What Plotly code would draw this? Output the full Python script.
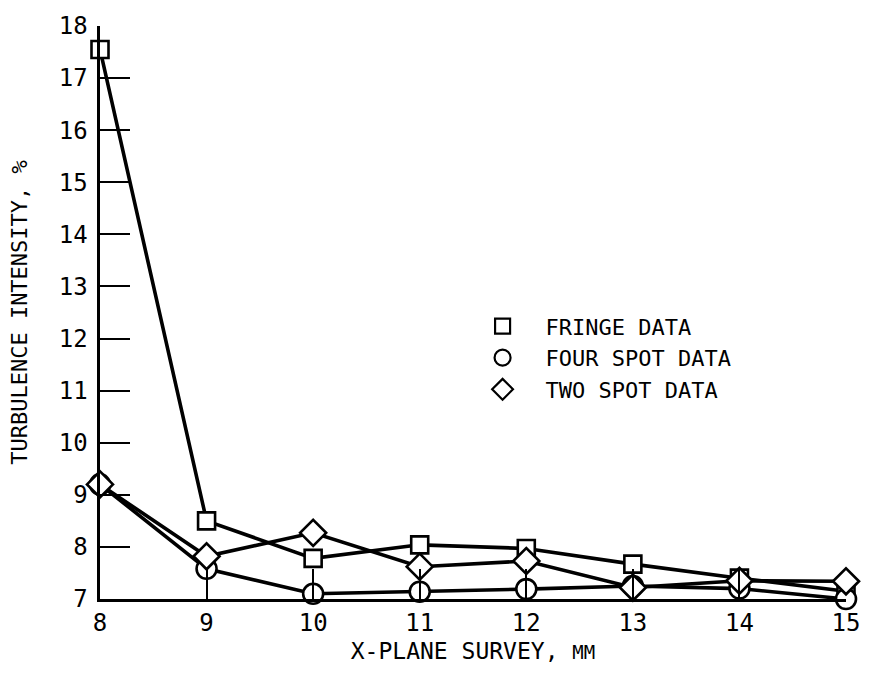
import plotly.graph_objects as go

# X-plane survey positions (mm) and measured turbulence intensity (%)
x_mm = [8, 9, 10, 11, 12, 13, 14, 15]
fringe = [17.55, 8.50, 7.78, 8.04, 7.97, 7.67, 7.40, 7.15]
four_spot = [9.20, 7.58, 7.10, 7.14, 7.19, 7.25, 7.20, 7.00]
two_spot = [9.20, 7.82, 8.27, 7.62, 7.73, 7.22, 7.35, 7.34]

series_names = ["FRINGE DATA", "FOUR SPOT DATA", "TWO SPOT DATA"]
x_ticks = [8, 9, 10, 11, 12, 13, 14, 15]
y_ticks = [7, 8, 9, 10, 11, 12, 13, 14, 15, 16, 17, 18]

FONT = "DejaVu Sans Mono, Liberation Mono, monospace"

fig = go.Figure()

styles = [
    ("square", 17),
    ("circle", 20),
    ("diamond", 20),
]
values = [fringe, four_spot, two_spot]

for vals, (sym, size), name in zip(values, styles, series_names):
    fig.add_trace(go.Scatter(
        x=x_mm, y=vals, mode="lines+markers",
        line=dict(color="black", width=3.6),
        marker=dict(symbol=sym, size=size,
                    color="white", line=dict(color="black", width=2.6)),
        cliponaxis=False, showlegend=False, name=name,
    ))

# legend entries: markers only
for (sym, size), name in zip(styles, series_names):
    fig.add_trace(go.Scatter(
        x=[None], y=[None], mode="markers", name=name,
        marker=dict(symbol=sym + "-open", size=size - 2,
                    color="black", line=dict(color="black", width=2.2)),
        showlegend=True,
    ))

# small trailing pad keeps the y labels a little clear of the axis
y_pad = '<span style="font-size:8px"> </span>'

fig.update_layout(
    width=872, height=673,
    margin=dict(l=100, r=17, t=15, b=71),
    paper_bgcolor="white", plot_bgcolor="white",
    font=dict(family=FONT, color="black", size=22),
    legend=dict(x=0.482, y=0.421, xanchor="left", yanchor="middle",
                bgcolor="rgba(0,0,0,0)", itemwidth=76,
                font=dict(family=FONT, size=22, color="black"),
                tracegroupgap=0),
    xaxis=dict(
        range=[8, 15], tickvals=x_ticks, ticktext=[str(v) for v in x_ticks],
        showgrid=False, zeroline=False, showline=True, linecolor="black",
        linewidth=2.5, ticks="inside", ticklen=30, tickwidth=2.2,
        tickcolor="black", layer="above traces",
        tickfont=dict(family=FONT, size=24),
        title=dict(text='X-PLANE SURVEY, <span style="font-size:19px">MM</span>',
                   font=dict(family=FONT, size=23), standoff=8),
    ),
    yaxis=dict(
        range=[7, 18], tickvals=y_ticks,
        ticktext=[str(v) + y_pad for v in y_ticks],
        showgrid=False, zeroline=False, showline=True, linecolor="black",
        linewidth=2.5, ticks="inside", ticklen=30, tickwidth=2.2,
        tickcolor="black", layer="above traces",
        tickfont=dict(family=FONT, size=24),
        title=dict(text="TURBULENCE INTENSITY, %",
                   font=dict(family=FONT, size=22), standoff=26),
    ),
)

fig.write_html("out.html")
